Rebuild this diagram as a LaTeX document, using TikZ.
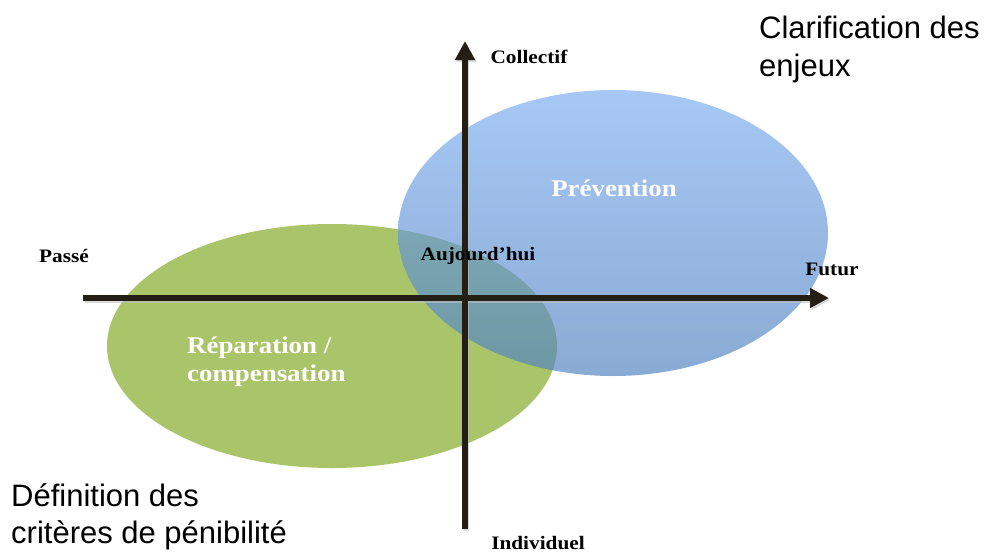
\documentclass[tikz,border=0pt]{standalone}
\usepackage{fontspec}
\setmainfont{Liberation Serif}
\newfontfamily\lblfont[FakeStretch=1.12]{Liberation Serif}
\newfontfamily\arialfont{Liberation Sans}
\usetikzlibrary{arrows.meta,shapes.geometric}
\definecolor{axiscol}{RGB}{35,31,20}
\definecolor{greenfill}{RGB}{170,196,106}
\definecolor{bluetop}{RGB}{125,174,240}
\definecolor{bluebot}{RGB}{80,130,190}
\tikzset{
  axisline/.style={line width=5.5pt, draw=axiscol, -{Triangle[length=19pt,width=19pt]}},
  axislabel/.style={font=\lblfont\bfseries\fontsize{19}{22}\selectfont, text=black, inner sep=0pt},
  zonelabel/.style={font=\lblfont\bfseries\fontsize{24}{28}\selectfont, text=white, inner sep=0pt},
  sidetext/.style={font=\arialfont\fontsize{31}{37.5}\selectfont, text=black, inner sep=0pt, align=left},
}
\begin{document}
\begin{tikzpicture}[x=1pt,y=-1pt]
\path[use as bounding box] (0,0) rectangle (986,552);
% ellipses
\fill[greenfill] (332,346) ellipse [x radius=225, y radius=122];
\shade[top color=bluetop, bottom color=bluebot, fill opacity=0.68] (613,233) ellipse [x radius=215, y radius=143];
% axis end points
\coordinate (hstart) at (83,298);
\coordinate (hend) at (829,298);
\coordinate (vstart) at (465,529);
\coordinate (vend) at (465,41);
% shadows
\draw[axisline, draw=black!25, fill=black!25, opacity=0.6, transform canvas={shift={(1.5pt,-2pt)}}] (hstart) -- (hend);
\draw[axisline, draw=black!25, fill=black!25, opacity=0.6, transform canvas={shift={(1.5pt,-2pt)}}] (vstart) -- (vend);
\draw[axisline, fill=axiscol] (hstart) -- (hend);
\draw[axisline, fill=axiscol] (vstart) -- (vend);
% labels
\node[axislabel] (collectif) at (529,57) {Collectif};
\node[axislabel] (passe) at (64,256) {Passé};
\node[axislabel] (aujourdhui) at (478,256) {Aujourd’hui};
\node[axislabel] (futur) at (832,269) {Futur};
\node[axislabel] (individuel) at (538,543) {Individuel};
\node[zonelabel] (prevention) at (614,188) {Prévention};
\node[zonelabel, align=left, anchor=west] (reparation) at (187,362) {Réparation /\\compensation};
\node[sidetext, anchor=north west] (clarif) at (759,16) {Clarification des\\enjeux};
\node[sidetext, anchor=north west] (defin) at (11,483) {Définition des\\critères de pénibilité};
\end{tikzpicture}
\end{document}
